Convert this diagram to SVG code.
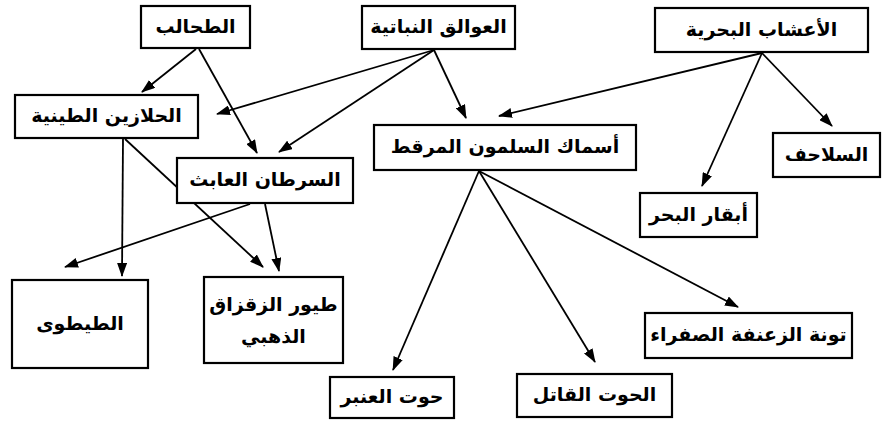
<svg xmlns="http://www.w3.org/2000/svg" width="884" height="424" viewBox="0 0 884 424">
<defs>
<marker id="ah" markerWidth="14" markerHeight="10" refX="13" refY="5" orient="auto" markerUnits="userSpaceOnUse">
<path d="M0,0 L14,5 L0,10 Z" fill="#000"/>
</marker>
<style>
.box{fill:#fff;stroke:#000;stroke-width:2.2}
.t{font-family:"DejaVu Sans",sans-serif;font-weight:bold;font-size:19px;fill:#000;text-anchor:middle;direction:rtl}
.c{stroke:#000;stroke-width:1.8;fill:none;marker-end:url(#ah)}
</style>
</defs>
<rect width="884" height="424" fill="#fff"/>
<g id="connectors">
<line class="c" x1="196" y1="49" x2="142" y2="92"/>
<line class="c" x1="199" y1="49" x2="257" y2="153"/>
<line class="c" x1="434" y1="50" x2="217" y2="114"/>
<line class="c" x1="434" y1="50" x2="279" y2="152"/>
<line class="c" x1="434" y1="50" x2="466" y2="118"/>
<line class="c" x1="762" y1="53" x2="499" y2="116"/>
<line class="c" x1="762" y1="53" x2="832" y2="126"/>
<line class="c" x1="762" y1="53" x2="702" y2="186"/>
<line class="c" x1="123" y1="139" x2="122" y2="276"/>
<line class="c" x1="125" y1="139" x2="263" y2="267"/>
<line class="c" x1="250" y1="204" x2="65" y2="267"/>
<line class="c" x1="265" y1="204" x2="279" y2="271"/>
<line class="c" x1="479" y1="171" x2="393" y2="370"/>
<line class="c" x1="479" y1="171" x2="595" y2="362"/>
<line class="c" x1="479" y1="171" x2="738" y2="307"/>
</g>
<g id="n-algae"><rect class="box" x="141" y="6" width="109" height="42"/><text class="t" x="195.5" y="33">الطحالب</text></g>
<g id="n-phyto"><rect class="box" x="362" y="6" width="153" height="43"/><text class="t" x="438.5" y="33">العوالق النباتية</text></g>
<g id="n-seagrass"><rect class="box" x="655" y="8" width="213" height="44"/><text class="t" x="761.5" y="36">الأعشاب البحرية</text></g>
<g id="n-snails"><rect class="box" x="15" y="95" width="183" height="43"/><text class="t" x="106.5" y="122">الحلازين الطينية</text></g>
<g id="n-crab"><rect class="box" x="177" y="158" width="176" height="45"/><text class="t" x="265" y="186">السرطان العابث</text></g>
<g id="n-trout"><rect class="box" x="374" y="125" width="262" height="45"/><text class="t" x="505" y="153">أسماك السلمون المرقط</text></g>
<g id="n-turtles"><rect class="box" x="773" y="133" width="107" height="44"/><text class="t" x="826.5" y="161">السلاحف</text></g>
<g id="n-manatee"><rect class="box" x="640" y="193" width="117" height="44"/><text class="t" x="698.5" y="221">أبقار البحر</text></g>
<g id="n-curlew"><rect class="box" x="12" y="280" width="136" height="88"/><text class="t" x="80" y="330">الطيطوى</text></g>
<g id="n-plover"><rect class="box" x="204" y="277" width="139" height="86"/><text class="t" x="273.5" y="311">طيور الزقزاق</text><text class="t" x="273.5" y="343">الذهبي</text></g>
<g id="n-tuna"><rect class="box" x="645" y="313" width="207" height="45"/><text class="t" x="748.5" y="341">تونة الزعنفة الصفراء</text></g>
<g id="n-orca"><rect class="box" x="517" y="374" width="155" height="43"/><text class="t" x="594.5" y="401">الحوت القاتل</text></g>
<g id="n-sperm"><rect class="box" x="330" y="377" width="124" height="41"/><text class="t" x="392" y="403">حوت العنبر</text></g>
</svg>
